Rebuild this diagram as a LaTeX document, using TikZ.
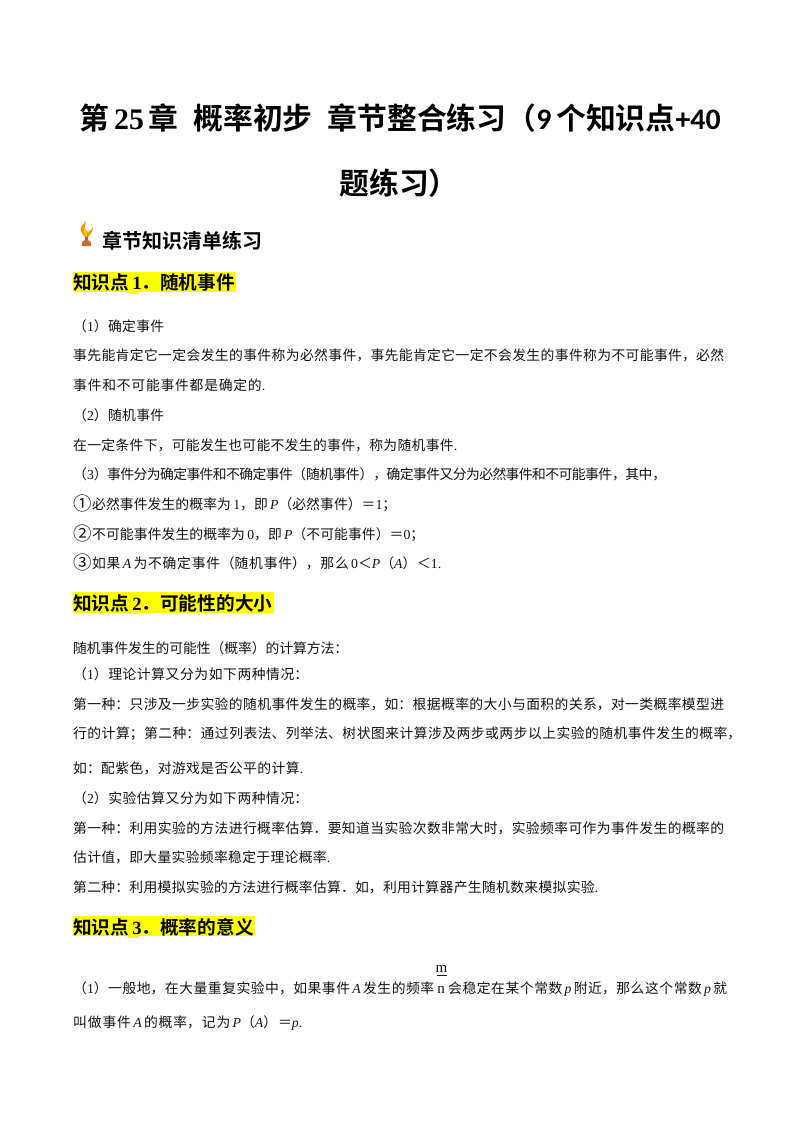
\documentclass[tikz,border=0pt]{standalone}
\usepackage{fontspec}
\setmainfont[BoldFont={Noto Sans CJK SC Bold}]{Noto Sans CJK SC}
\newfontfamily\lat{Liberation Serif}
\newfontfamily\calb{Carlito}
\newcommand{\La}[1]{{\lat #1}}
\newcommand{\Lb}[1]{{\lat\bfseries #1}}
\newcommand{\Li}[1]{{\lat\itshape #1}}
\newcommand{\Circ}[1]{\makebox[19pt][l]{\raisebox{-1.7pt}{\fontsize{18.5pt}{20pt}\selectfont #1}}}
\XeTeXlinebreaklocale "zh"
\XeTeXlinebreakskip=0pt plus 4pt minus 1.5pt
\definecolor{hl}{RGB}{255,255,0}
\definecolor{ink}{RGB}{20,20,20}
\tikzset{
  body/.style={anchor=base west,inner sep=0pt,text=ink,font=\fontsize{13.8pt}{16pt}\selectfont},
  headtext/.style={anchor=base west,inner sep=0pt,text=black,font=\fontsize{18.67pt}{22pt}\selectfont\bfseries},
  titletext/.style={anchor=base,inner sep=0pt,text=black,font=\fontsize{29.8pt}{36pt}\selectfont\bfseries},
  subtext/.style={anchor=base west,inner sep=0pt,text=black,font=\fontsize{20pt}{24pt}\selectfont\bfseries},
  mark box/.style={fill=hl,draw=none}
}
% name, baseline y, right end x, text
\newcommand{\lineat}[4]{\node[body] (#1) at (73,#2) {\parbox[b]{\dimexpr#3pt-73pt\relax}{\parfillskip=0pt\relax\leavevmode #4}};}
\begin{document}
\begin{tikzpicture}[x=1pt,y=-1pt]
\useasboundingbox (0,0) rectangle (800,1132);
\fill[white] (0,0) rectangle (800,1132);
% title
\node[titletext] (t1) at (400,129) {第\,\Lb{25}\,章\hspace{0.5em}概率初步\hspace{0.5em}章节整合练习（{\calb\bfseries 9}\,个知识点{\calb\bfseries +40}};
\node[titletext] (t2) at (399,194) {题练习）};
% trophy
\fill[orange!85!yellow] (86,221) .. controls (83,225) and (80,226) .. (81,231) .. controls (82,234) and (84,235) .. (85,237) -- (88,237) .. controls (90,235) and (93,232) .. (93,227) .. controls (92,230) and (90,231) .. (88,232) .. controls (85,231) and (84,227) .. (86,221) -- cycle;
\fill[yellow!80!orange] (85,227) .. controls (84,230) and (85,232) .. (87,233) -- (86,236) .. controls (84,234) and (83,230) .. (85,227) -- cycle;
\fill[brown!85!black] (85,237) rectangle (88,240);
\fill[brown!85!red] (82,246) .. controls (81,242) and (83,240) .. (86.5,240) .. controls (90,240) and (92,242) .. (91,246) -- cycle;
\node[subtext] (sub) at (102,248) {章节知识清单练习};
% section 1
\fill[mark box] (73,272) rectangle (236,292);
\fill[mark box] (127,292) rectangle (139,294);
\node[headtext] (h1) at (73,289) {知识点\,\Lb{1}．随机事件};
\lineat{a1}{331}{164}{（\La{1}）确定事件}
\lineat{a2}{360}{724}{事先能肯定它一定会发生的事件称为必然事件，事先能肯定它一定不会发生的事件称为不可能事件，必然}
\lineat{a3}{390}{265}{事件和不可能事件都是确定的\La{.}}
\lineat{a4}{420}{164}{（\La{2}）随机事件}
\lineat{a5}{450}{457}{在一定条件下，可能发生也可能不发生的事件，称为随机事件\La{.}}
\lineat{a6}{479}{666}{（\La{3}）事件分为确定事件和不确定事件（随机事件），确定事件又分为必然事件和不可能事件，其中，}
\lineat{a7}{509}{396}{\Circ{①}必然事件发生的概率为\,\La{1}，即\,\Li{P}（必然事件）＝\La{1}；}
\lineat{a8}{539}{424}{\Circ{②}不可能事件发生的概率为\,\La{0}，即\,\Li{P}（不可能事件）＝\La{0}；}
\lineat{a9}{568}{441}{\Circ{③}如果\,\Li{A}\,为不确定事件（随机事件），那么\,\La{0}＜\Li{P}（\Li{A}）＜\La{1.}}
% section 2
\fill[mark box] (73,592) rectangle (274,613);
\fill[mark box] (127,613) rectangle (139,614);
\node[headtext] (h2) at (73,610) {知识点\,\Lb{2}．可能性的大小};
\lineat{b1}{653}{348}{随机事件发生的可能性（概率）的计算方法：}
\lineat{b2}{679}{308}{（\La{1}）理论计算又分为如下两种情况：}
\lineat{b3}{709}{724}{第一种：只涉及一步实验的随机事件发生的概率，如：根据概率的大小与面积的关系，对一类概率模型进}
\lineat{b4}{738}{741}{行的计算；第二种：通过列表法、列举法、树状图来计算涉及两步或两步以上实验的随机事件发生的概率，}
\lineat{b5}{773}{303}{如：配紫色，对游戏是否公平的计算\La{.}}
\lineat{b6}{803}{308}{（\La{2}）实验估算又分为如下两种情况：}
\lineat{b7}{833}{724}{第一种：利用实验的方法进行概率估算．要知道当实验次数非常大时，实验频率可作为事件发生的概率的}
\lineat{b8}{862}{330}{估计值，即大量实验频率稳定于理论概率\La{.}}
\lineat{b9}{892}{598}{第二种：利用模拟实验的方法进行概率估算．如，利用计算器产生随机数来模拟实验\La{.}}
% section 3
\fill[mark box] (73,916) rectangle (255,936);
\fill[mark box] (127,936) rectangle (139,938);
\node[headtext] (h3) at (73,934) {知识点\,\Lb{3}．概率的意义};
\lineat{c1}{993}{434}{（\La{1}）一般地，在大量重复实验中，如果事件\,\Li{A}\,发生的频率}
\node[body,anchor=base] (fm) at (441.5,972) {\fontsize{15pt}{16pt}\selectfont\La{m}};
\coordinate (barl) at (436.5,975.5);
\coordinate (barr) at (447,975.5);
\draw[line width=1pt,ink] (barl) -- (barr);
\node[body,anchor=base] (fn) at (441,993) {\fontsize{15pt}{16pt}\selectfont\La{n}};
\node[body] (c2) at (448,993) {\parbox[b]{279pt}{\parfillskip=0pt\relax\leavevmode 会稳定在某个常数\,\Li{p}\,附近，那么这个常数\,\Li{p}\,就}};
\lineat{c3}{1027}{302}{叫做事件\,\Li{A}\,的概率，记为\,\Li{P}（\Li{A}）＝\Li{p}\La{.}}
\end{tikzpicture}
\end{document}
